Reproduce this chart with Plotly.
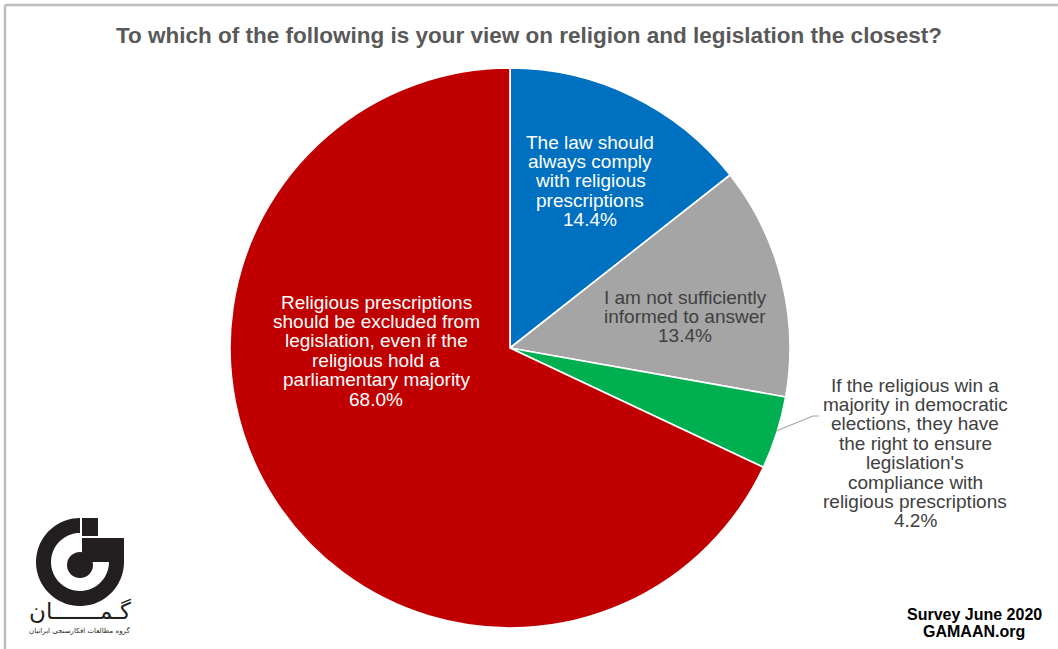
import numpy as np
import plotly.graph_objects as go

W, H = 1058, 649

# Survey answers (share of respondents, %)
categories = [
    "The law should always comply with religious prescriptions",
    "I am not sufficiently informed to answer",
    "If the religious win a majority in democratic elections, they have the right "
    "to ensure legislation's compliance with religious prescriptions",
    "Religious prescriptions should be excluded from legislation, even if the "
    "religious hold a parliamentary majority",
]
values = [14.4, 13.4, 4.2, 68.0]
colors = ["#0070C0", "#A5A5A5", "#00B050", "#C00000"]

# Wrapped label text for each slice
label_lines = [
    ["The law should", "always comply", "with religious", "prescriptions"],
    ["I am not sufficiently", "informed to answer"],
    ["If the religious win a", "majority in democratic", "elections, they have",
     "the right to ensure", "legislation's", "compliance with",
     "religious prescriptions"],
    ["Religious prescriptions", "should be excluded from", "legislation, even if the",
     "religious hold a", "parliamentary majority"],
]
label_colors = ["white", "#404040", "#404040", "white"]
# centre x and first-line y of each label block (pixels)
label_pos = [(590, 142), (685, 297), (915, 385), (376, 302)]
LINE_H = 19.4

TITLE = "To which of the following is your view on religion and legislation the closest?"
FONT = "Liberation Sans, Arial, Helvetica, sans-serif"


def px(x):
    return x / W


def py(y):
    return 1 - y / H


# pie geometry in pixels
CX, CY, R = 510, 348, 280

fig = go.Figure()
fig.add_trace(go.Pie(
    labels=categories,
    values=values,
    sort=False,
    direction="clockwise",
    rotation=0,
    marker=dict(colors=colors, line=dict(color="white", width=1.6)),
    textinfo="none",
    hoverinfo="label+percent",
    showlegend=False,
    domain=dict(x=[px(CX - R), px(CX + R)], y=[py(CY + R), py(CY - R)]),
))

annotations = []
for lines, val, col, (lx, ly) in zip(label_lines, values, label_colors, label_pos):
    for i, t in enumerate(lines + [f"{val:.1f}%"]):
        annotations.append(dict(
            x=px(lx), y=py(ly + i * LINE_H), xref="paper", yref="paper",
            text=t, showarrow=False, xanchor="center", yanchor="middle",
            font=dict(family=FONT, size=19, color=col),
        ))

# title
annotations.append(dict(
    x=px(529), y=py(36), xref="paper", yref="paper", text=f"<b>{TITLE}</b>",
    showarrow=False, xanchor="center", yanchor="middle",
    font=dict(family=FONT, size=22.5, color="#595959"),
))

# source note
for i, t in enumerate(["Survey June 2020", "GAMAAN.org"]):
    annotations.append(dict(
        x=px(974), y=py(614 + i * 17), xref="paper", yref="paper", text=f"<b>{t}</b>",
        showarrow=False, xanchor="center", yanchor="middle",
        font=dict(family=FONT, size=16, color="black"),
    ))

# logo wordmark
annotations.append(dict(
    x=px(80), y=py(611), xref="paper", yref="paper", text="گـمـــــــان",
    showarrow=False, xanchor="center", yanchor="middle",
    font=dict(family="DejaVu Sans, sans-serif", size=23, color="#231F20"),
))
annotations.append(dict(
    x=px(79), y=py(630), xref="paper", yref="paper", text="گروه مطالعات افکارسنجی ایرانیان",
    showarrow=False, xanchor="center", yanchor="middle",
    font=dict(family="DejaVu Sans, sans-serif", size=7, color="#231F20"),
))

shapes = []

# frame on top and left edges
shapes.append(dict(type="line", xref="paper", yref="paper",
                   x0=px(5), y0=py(5), x1=1, y1=py(5),
                   line=dict(color="#BDBDBD", width=2.5)))
shapes.append(dict(type="line", xref="paper", yref="paper",
                   x0=px(5), y0=py(5), x1=px(5), y1=0,
                   line=dict(color="#BDBDBD", width=2.5)))

# leader line for the small green slice
shapes.append(dict(type="path", xref="paper", yref="paper",
                   path=f"M {px(776)},{py(431)} L {px(813)},{py(416)} L {px(819)},{py(416)}",
                   line=dict(color="#A6A6A6", width=1.2)))

# logo: three-quarter ring, inner disc, and stepped blocks
LX, LY, RO, RI = 80, 562, 44, 29
th = np.radians(np.linspace(90, 360, 60))
outer = [(LX + RO * np.cos(t), LY - RO * np.sin(t)) for t in th]
inner = [(LX + RI * np.cos(t), LY - RI * np.sin(t)) for t in th[::-1]]
pts = outer + inner
path = "M " + " L ".join(f"{px(x):.5f},{py(y):.5f}" for x, y in pts) + " Z"
shapes.append(dict(type="path", xref="paper", yref="paper", path=path,
                   fillcolor="#231F20", line=dict(width=0)))
shapes.append(dict(type="circle", xref="paper", yref="paper",
                   x0=px(LX - 13), x1=px(LX + 13), y0=py(LY + 16), y1=py(LY - 10),
                   fillcolor="#231F20", line=dict(width=0)))
shapes.append(dict(type="rect", xref="paper", yref="paper",
                   x0=px(82), x1=px(98), y0=py(536), y1=py(518),
                   fillcolor="#231F20", line=dict(width=0)))
shapes.append(dict(type="rect", xref="paper", yref="paper",
                   x0=px(82), x1=px(124), y0=py(562), y1=py(538),
                   fillcolor="#231F20", line=dict(width=0)))

fig.update_layout(
    width=W, height=H,
    margin=dict(l=0, r=0, t=0, b=0),
    paper_bgcolor="white", plot_bgcolor="white",
    annotations=annotations,
    shapes=shapes,
)

fig.write_html("out.html")
